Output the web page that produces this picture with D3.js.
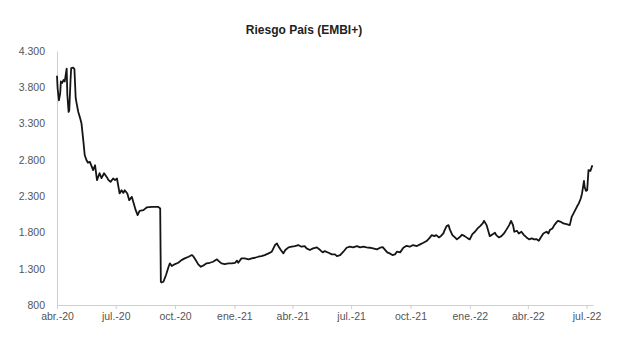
<!DOCTYPE html>
<html>
<head>
<meta charset="utf-8">
<script src="https://cdn.jsdelivr.net/npm/d3@7"></script>
<style>
    body { margin: 0; background: #fff; }
    svg { font-family: "Liberation Sans", Arial, sans-serif; }
</style>
</head>
<body>
<div id="graph"></div>
<script>
// Fechas de las observaciones (lectura aproximada del gráfico)
const fechas = [
    "2020-04-01", "2020-04-02", "2020-04-04", "2020-04-06", "2020-04-07", "2020-04-09", "2020-04-11", "2020-04-13",
    "2020-04-16", "2020-04-17", "2020-04-19", "2020-04-20", "2020-04-22", "2020-04-23", "2020-04-26", "2020-04-28",
    "2020-04-30", "2020-05-02", "2020-05-04", "2020-05-07", "2020-05-09", "2020-05-12", "2020-05-14", "2020-05-17",
    "2020-05-19", "2020-05-22", "2020-05-27", "2020-05-30", "2020-06-02", "2020-06-06", "2020-06-09", "2020-06-13",
    "2020-06-17", "2020-06-20", "2020-06-23", "2020-06-27", "2020-06-30", "2020-07-03", "2020-07-07", "2020-07-10",
    "2020-07-13", "2020-07-15", "2020-07-19", "2020-07-22", "2020-07-26", "2020-07-29", "2020-08-01", "2020-08-04",
    "2020-08-07", "2020-08-13", "2020-08-18", "2020-08-26", "2020-09-05", "2020-09-08", "2020-09-09", "2020-09-10",
    "2020-09-13", "2020-09-17", "2020-09-21", "2020-09-23", "2020-09-26", "2020-10-01", "2020-10-06", "2020-10-11",
    "2020-10-16", "2020-10-22", "2020-10-27", "2020-10-29", "2020-11-02", "2020-11-06", "2020-11-10", "2020-11-15",
    "2020-11-19", "2020-11-24", "2020-11-29", "2020-12-05", "2020-12-07", "2020-12-12", "2020-12-17", "2020-12-23",
    "2020-12-28", "2021-01-02", "2021-01-05", "2021-01-07", "2021-01-12", "2021-01-17", "2021-01-23", "2021-01-28",
    "2021-02-02", "2021-02-07", "2021-02-12", "2021-02-17", "2021-02-23", "2021-02-28", "2021-03-05", "2021-03-08",
    "2021-03-10", "2021-03-14", "2021-03-18", "2021-03-21", "2021-03-26", "2021-03-31", "2021-04-05", "2021-04-10",
    "2021-04-15", "2021-04-20", "2021-04-23", "2021-04-28", "2021-05-03", "2021-05-09", "2021-05-14", "2021-05-18",
    "2021-05-21", "2021-05-27", "2021-06-01", "2021-06-06", "2021-06-09", "2021-06-14", "2021-06-19", "2021-06-24",
    "2021-06-29", "2021-07-04", "2021-07-10", "2021-07-15", "2021-07-20", "2021-07-25", "2021-07-30", "2021-08-04",
    "2021-08-10", "2021-08-15", "2021-08-19", "2021-08-22", "2021-08-26", "2021-08-30", "2021-09-03", "2021-09-07",
    "2021-09-10", "2021-09-15", "2021-09-20", "2021-09-25", "2021-09-30", "2021-10-05", "2021-10-11", "2021-10-16",
    "2021-10-21", "2021-10-26", "2021-10-30", "2021-11-03", "2021-11-07", "2021-11-10", "2021-11-14", "2021-11-17",
    "2021-11-21", "2021-11-23", "2021-11-26", "2021-11-29", "2021-12-01", "2021-12-05", "2021-12-09", "2021-12-12",
    "2021-12-17", "2021-12-20", "2021-12-24", "2021-12-29", "2022-01-01", "2022-01-05", "2022-01-09", "2022-01-13",
    "2022-01-17", "2022-01-21", "2022-01-23", "2022-01-27", "2022-01-30", "2022-02-01", "2022-02-05", "2022-02-09",
    "2022-02-11", "2022-02-15", "2022-02-19", "2022-02-23", "2022-02-27", "2022-03-03", "2022-03-06", "2022-03-09",
    "2022-03-11", "2022-03-15", "2022-03-18", "2022-03-22", "2022-03-26", "2022-03-30", "2022-04-03", "2022-04-07",
    "2022-04-11", "2022-04-14", "2022-04-18", "2022-04-21", "2022-04-25", "2022-04-27", "2022-04-30", "2022-05-03",
    "2022-05-05", "2022-05-09", "2022-05-12", "2022-05-16", "2022-05-18", "2022-05-22", "2022-05-26", "2022-05-31",
    "2022-06-05", "2022-06-08", "2022-06-12", "2022-06-16", "2022-06-19", "2022-06-22", "2022-06-24", "2022-06-27",
    "2022-06-28", "2022-06-30", "2022-07-02", "2022-07-04", "2022-07-07", "2022-07-10"
]

// Riesgo país en puntos básicos, una cifra por fecha
const embi = [
    3960, 3780, 3620, 3720, 3880, 3860, 3900, 3880,
    4057, 3700, 3460, 3480, 3900, 4065, 4070, 4050,
    3650, 3550, 3460, 3370, 3300, 3047, 2864, 2790,
    2760, 2772, 2658, 2726, 2520, 2616, 2548, 2616,
    2565, 2520, 2497, 2543, 2520, 2543, 2337, 2382,
    2345, 2382, 2337, 2245, 2290, 2200, 2107, 2038,
    2098, 2107, 2144, 2153, 2153, 2130, 1120, 1110,
    1120, 1213, 1327, 1374, 1337, 1364, 1382, 1419,
    1442, 1465, 1488, 1474, 1419, 1360, 1327, 1350,
    1374, 1382, 1396, 1429, 1410, 1374, 1364, 1374,
    1374, 1382, 1410, 1382, 1442, 1442, 1429, 1442,
    1451, 1465, 1474, 1488, 1511, 1534, 1626, 1649,
    1612, 1557, 1511, 1557, 1594, 1603, 1612, 1626,
    1603, 1612, 1580, 1557, 1580, 1594, 1557, 1525,
    1543, 1520, 1498, 1498, 1474, 1488, 1534, 1589,
    1603, 1594, 1612, 1594, 1603, 1594, 1589, 1580,
    1566, 1589, 1598, 1566, 1525, 1511, 1488, 1498,
    1534, 1525, 1589, 1616, 1603, 1626, 1612, 1635,
    1657, 1681, 1718, 1763, 1749, 1763, 1731, 1749,
    1786, 1832, 1887, 1901, 1842, 1763, 1731, 1704,
    1741, 1768, 1749, 1718, 1704, 1777, 1809, 1855,
    1887, 1924, 1960, 1901, 1809, 1749, 1772, 1795,
    1763, 1731, 1749, 1786, 1842, 1901, 1960, 1901,
    1809, 1823, 1786, 1809, 1763, 1731, 1704, 1718,
    1704, 1708, 1685, 1730, 1786, 1795, 1809, 1786,
    1832, 1855, 1901, 1946, 1960, 1946, 1924, 1914,
    1901, 2015, 2084, 2153, 2200, 2268, 2337, 2511,
    2428, 2373, 2382, 2658, 2648, 2726
]

// Marcas de los ejes
const mesesTicks = ["2020-04-01", "2020-07-01", "2020-10-01", "2021-01-01", "2021-04-01",
    "2021-07-01", "2021-10-01", "2022-01-01", "2022-04-01", "2022-07-01"]
const mesesLabels = ["abr.-20", "jul.-20", "oct.-20", "ene.-21", "abr.-21",
    "jul.-21", "oct.-21", "ene.-22", "abr.-22", "jul.-22"]
const yTicks = [800, 1300, 1800, 2300, 2800, 3300, 3800, 4300]

const titulo = "Riesgo País (EMBI+)"

/* ------------------------------------------------------------------------------
    GRAPH
------------------------------------------------------------------------------ */
const parseDate = d3.timeParse("%Y-%m-%d")
const data = fechas.map((f, i) => ({ date: parseDate(f), value: embi[i] }))

const totalW = 617, totalH = 345
const margin = { top: 51, right: 24, bottom: 40, left: 57 },
    width = totalW - margin.left - margin.right,
    height = totalH - margin.top - margin.bottom

const svg = d3.select("#graph")
    .append("svg")
    .attr("width", totalW)
    .attr("height", totalH)

const g = svg.append("g")
    .attr("transform", "translate(" + margin.left + "," + margin.top + ")")

// Formato con punto de miles
const es = d3.formatLocale({ decimal: ",", thousands: ".", grouping: [3], currency: ["$", ""] })

/* ------------------------------------------------------------------------------
    ESCALAS
------------------------------------------------------------------------------ */
const x = d3.scaleTime()
    .domain([parseDate("2020-04-01"), parseDate("2022-07-11")])
    .range([0, width])

const y = d3.scaleLinear()
    .domain([800, 4300])
    .range([height, 0])

/* ------------------------------------------------------------------------------
    EJES
------------------------------------------------------------------------------ */
const xAxis = g.append("g")
    .attr("transform", "translate(0," + height + ")")
    .call(d3.axisBottom(x)
        .tickValues(mesesTicks.map(parseDate))
        .tickFormat((d, i) => mesesLabels[i])
        .tickSize(4)
        .tickPadding(4)
        .tickSizeOuter(0))

const yAxis = g.append("g")
    .call(d3.axisLeft(y)
        .tickValues(yTicks)
        .tickFormat(es.format(",d"))
        .tickSize(0)
        .tickPadding(12))

g.selectAll(".domain, .tick line")
    .attr("stroke", "#cfcfcf")
    .attr("stroke-width", 1)

g.selectAll(".tick text")
    .attr("fill", "#555")
    .style("font-size", "10.5px")
    .style("font-family", "'Liberation Sans', Arial, sans-serif")

/* ------------------------------------------------------------------------------
    LINEA
------------------------------------------------------------------------------ */
const line = d3.line()
    .x(d => x(d.date))
    .y(d => y(d.value))

g.append("path")
    .datum(data)
    .attr("fill", "none")
    .attr("stroke", "#151515")
    .attr("stroke-width", 1.8)
    .attr("stroke-linejoin", "round")
    .attr("d", line)

// Titulo
svg.append("text")
    .attr("x", 304)
    .attr("y", 34)
    .attr("text-anchor", "middle")
    .style("font-size", "12px")
    .style("font-weight", "bold")
    .attr("fill", "#222")
    .text(titulo)
</script>
</body>
</html>
